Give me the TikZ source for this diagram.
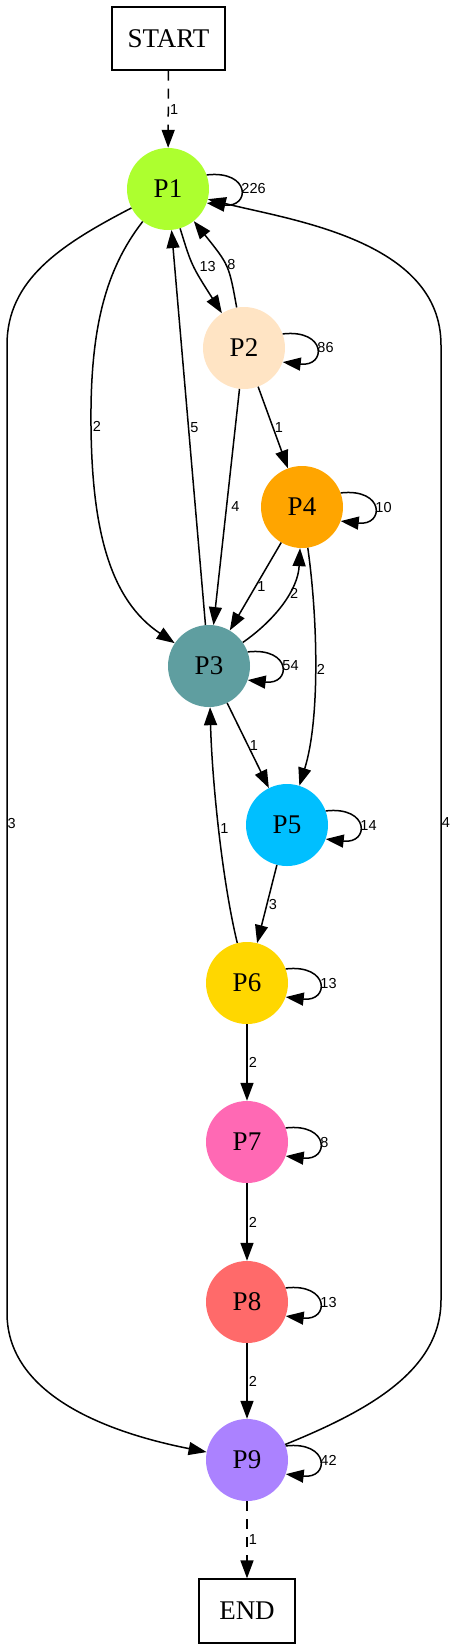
\documentclass[tikz,border=0pt]{standalone}
\usepackage{fontspec}
\setmainfont{Liberation Serif}
\newfontfamily\mylblfamily{Liberation Sans}
\usetikzlibrary{arrows.meta}
\definecolor{cPa}{HTML}{ADFF2F}
\definecolor{cPb}{HTML}{FFE4C4}
\definecolor{cPc}{HTML}{5F9EA0}
\definecolor{cPd}{HTML}{FFA500}
\definecolor{cPe}{HTML}{00BFFF}
\definecolor{cPf}{HTML}{FFD700}
\definecolor{cPg}{HTML}{FF69B4}
\definecolor{cPh}{HTML}{FF6A6A}
\definecolor{cPi}{HTML}{AB82FF}
\newcommand\mynodefont{\fontsize{27}{30}\selectfont}
\newcommand\mylblfont{\mylblfamily\fontsize{14.5}{16}\selectfont}
\tikzset{
  pnode/.style={circle, minimum size=82pt, inner sep=0pt, font=\mynodefont},
  term/.style={draw, line width=1.3pt, minimum height=63pt, inner sep=0pt, font=\mynodefont},
  edge/.style={line width=1.5pt, -{Triangle[length=18pt,width=13pt]}},
  dashline/.style={dash pattern=on 10pt off 8pt},
  lbl/.style={font=\mylblfont, inner sep=1pt, anchor=west},
}
\begin{document}
\begin{tikzpicture}[x=1pt,y=-1pt]
\useasboundingbox (0,0) rectangle (457,1650);
\node[term, minimum width=113pt] (START) at (168.5,38.5) {START};
\node[pnode, fill=cPa] (P1) at (168,189) {P1};
\node[pnode, fill=cPb] (P2) at (244,348) {P2};
\node[pnode, fill=cPc] (P3) at (209,666) {P3};
\node[pnode, fill=cPd] (P4) at (302,507) {P4};
\node[pnode, fill=cPe] (P5) at (287,825) {P5};
\node[pnode, fill=cPf] (P6) at (247,983) {P6};
\node[pnode, fill=cPg] (P7) at (247,1142) {P7};
\node[pnode, fill=cPh] (P8) at (247,1302) {P8};
\node[pnode, fill=cPi] (P9) at (247,1460) {P9};
\node[term, minimum width=96pt, minimum height=64pt] (END) at (247,1611) {END};

% straight and curved edges
\draw[edge, dashline] (START) -- (P1) node[lbl, midway] {1};
\draw[edge] (P1) .. controls (191.5,265.4) .. (P2) node[lbl, pos=.5, xshift=4pt] {13};
\draw[edge] (P2) .. controls (229,265) .. (P1) node[lbl, pos=.5] {8};
\draw[edge] (P1) .. controls (105,270) and (90,330) .. (91,426) node[lbl] {2}
   .. controls (92,530) and (110,600) .. (P3);
\draw[edge] (P3) -- (P1) node[lbl, pos=.5] {5};
\draw[edge] (P2) -- (P3) node[lbl, pos=.5, xshift=3pt] {4};
\draw[edge] (P2) -- (P4) node[lbl, pos=.5] {1};
\draw[edge] (P4) -- (P3) node[lbl, pos=.5] {1};
\draw[edge] (P3) .. controls (275,620) and (298,590) .. (P4) node[lbl, pos=.6] {2};
\draw[edge] (P4) .. controls (318,620) and (320,720) .. (P5) node[lbl, pos=.5] {2};
\draw[edge] (P3) -- (P5) node[lbl, pos=.5] {1};
\draw[edge] (P6) .. controls (222,880) and (212,780) .. (P3) node[lbl, pos=.5] {1};
\draw[edge] (P5) -- (P6) node[lbl, pos=.5] {3};
\draw[edge] (P6) -- (P7) node[lbl, midway] {2};
\draw[edge] (P7) -- (P8) node[lbl, midway] {2};
\draw[edge] (P8) -- (P9) node[lbl, midway] {2};
\draw[edge, dashline] (P9) -- (END) node[lbl, midway] {1};
\draw[edge] (P1) .. controls (60,245) and (7,280) .. (7,345) -- (7,1313) node[lbl, pos=.494, inner sep=0pt] {3}
   .. controls (7,1400) and (120,1435) .. (P9);
\draw[edge] (P9) .. controls (370,1410) and (441,1370) .. (441,1300) -- (441,345) node[lbl, pos=.5, inner sep=0pt] {4}
   .. controls (441,240) and (290,220) .. (P1);

% self loops
\draw[edge] (P1.20) .. controls +(44,-5) and +(44,5) .. (P1.-20) node[lbl, pos=.5] {226};
\draw[edge] (P2.20) .. controls +(44,-5) and +(44,5) .. (P2.-20) node[lbl, pos=.5] {86};
\draw[edge] (P3.20) .. controls +(44,-5) and +(44,5) .. (P3.-20) node[lbl, pos=.5] {54};
\draw[edge] (P4.20) .. controls +(44,-5) and +(44,5) .. (P4.-20) node[lbl, pos=.5] {10};
\draw[edge] (P5.20) .. controls +(44,-5) and +(44,5) .. (P5.-20) node[lbl, pos=.5] {14};
\draw[edge] (P6.20) .. controls +(44,-5) and +(44,5) .. (P6.-20) node[lbl, pos=.5] {13};
\draw[edge] (P7.20) .. controls +(44,-5) and +(44,5) .. (P7.-20) node[lbl, pos=.5] {8};
\draw[edge] (P8.20) .. controls +(44,-5) and +(44,5) .. (P8.-20) node[lbl, pos=.5] {13};
\draw[edge] (P9.20) .. controls +(44,-5) and +(44,5) .. (P9.-20) node[lbl, pos=.5] {42};
\end{tikzpicture}
\end{document}
